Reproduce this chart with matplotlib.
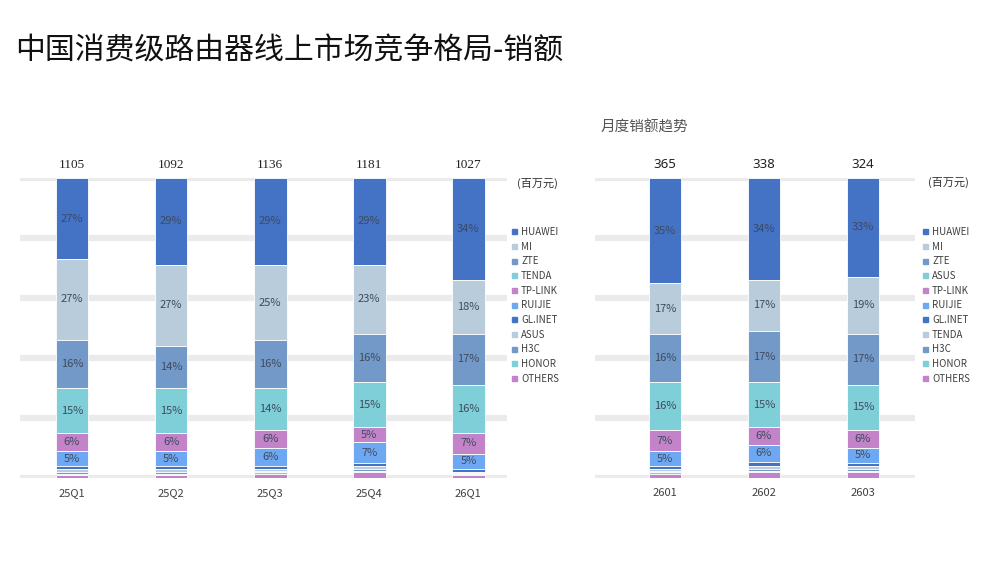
import matplotlib
matplotlib.use("Agg")
import matplotlib.pyplot as plt
from matplotlib.lines import Line2D
import numpy as np

plt.rcParams['font.family'] = ['Noto Sans CJK SC', 'DejaVu Sans']

# quarterly shares (%), stack order top -> bottom
quarters = ['25Q1', '25Q2', '25Q3', '25Q4', '26Q1']
quarter_totals = [1105, 1092, 1136, 1181, 1027]
quarter_brands = ['HUAWEI', 'MI', 'ZTE', 'TENDA', 'TP-LINK', 'RUIJIE',
                  'GL.INET', 'ASUS', 'H3C', 'HONOR', 'OTHERS']
q_huawei = [27, 29, 29, 29, 34]
q_mi = [27, 27, 25, 23, 18]
q_zte = [16, 14, 16, 16, 17]
q_tenda = [15, 15, 14, 15, 16]
q_tplink = [6, 6, 6, 5, 7]
q_ruijie = [5, 5, 6, 7, 5]
q_glinet = [1, 1, 1, 1, 1]
q_asus = [1, 1, 0.5, 1, 0.3]
q_h3c = [0.5, 0.5, 0.5, 0.5, 0.3]
q_honor = [0.5, 0.5, 0.5, 0.5, 0.4]
q_others = [1, 1, 1.5, 2, 1]

# monthly shares (%)
months = ['2601', '2602', '2603']
month_totals = [365, 338, 324]
month_brands = ['HUAWEI', 'MI', 'ZTE', 'ASUS', 'TP-LINK', 'RUIJIE',
                'GL.INET', 'TENDA', 'H3C', 'HONOR', 'OTHERS']
m_huawei = [35, 34, 33]
m_mi = [17, 17, 19]
m_zte = [16, 17, 17]
m_asus = [16, 15, 15]
m_tplink = [7, 6, 6]
m_ruijie = [5, 5.5, 5]
m_glinet = [1, 1.5, 1]
m_tenda = [0.5, 1, 1]
m_h3c = [0.5, 0.5, 0.5]
m_honor = [0.5, 0.5, 0.5]
m_others = [1.5, 2, 2]

palette = ['#4472C4', '#B8CCDC', '#7399C9', '#7FCFD8', '#C283C8', '#6FA8F2']
label_color = '#3E4A5E'
grid_color = '#EBEBEB'


def draw_panel(ax, cats, totals, brands, series, x_left, x_right, total_font):
    x = np.arange(len(cats))
    ax.set_xlim(x_left, x_right)
    ax.set_ylim(0, 100)
    for g in range(0, 101, 20):
        ax.axhline(g, color=grid_color, lw=4.5, zorder=0)

    top = np.full(len(cats), 100.0)
    for i, vals in enumerate(series):
        vals = np.array(vals, dtype=float)
        bottom = top - vals
        ax.bar(x, vals, bottom=bottom, width=0.33, color=palette[i % 6],
               edgecolor='white', linewidth=0.6, zorder=2)
        for xi, v, b in zip(x, vals, bottom):
            if v >= 5:
                ax.text(xi, b + v / 2, f'{v:.0f}%', ha='center', va='center',
                        fontsize=8, color=label_color, zorder=3)
        top = bottom

    for xi, t in zip(x, totals):
        ax.text(xi, 102.5, str(t), ha='center', va='bottom', fontsize=9.5,
                color='#222222', family=total_font)
    for xi, c in zip(x, cats):
        ax.text(xi, -3.5, c, ha='center', va='top', fontsize=8,
                color='#404040')

    ax.axis('off')


def draw_legend(fig, brands, x0, y_unit, y_first):
    fig.text(x0, y_unit, '(百万元)', fontsize=8, color='#303030',
             ha='left', va='center')
    handles = [Line2D([], [], marker='s', linestyle='none', markersize=3.6,
                      color=palette[i % 6]) for i in range(len(brands))]
    fig.legend(handles, brands, loc='upper left',
               bbox_to_anchor=(x0 - 0.012, y_first), frameon=False,
               fontsize=7, labelspacing=0.48, handlelength=0.8,
               handletextpad=0.35, borderpad=0, labelcolor='#404040')


fig = plt.figure(figsize=(10, 5.63), dpi=100)
fig.patch.set_facecolor('white')

fig.text(0.015, 0.91, '中国消费级路由器线上市场竞争格局-销额', fontsize=21.5,
         color='#111111', ha='left', va='center')
fig.text(0.601, 0.773, '月度销额趋势', fontsize=10.5, color='#555555',
         ha='left', va='center')

ax1 = fig.add_axes([0.020, 85 / 563, 0.487, 300 / 563])
draw_panel(ax1, quarters, quarter_totals, quarter_brands,
           [q_huawei, q_mi, q_zte, q_tenda, q_tplink, q_ruijie,
            q_glinet, q_asus, q_h3c, q_honor, q_others],
           -0.525, 4.39, 'Liberation Serif')

ax2 = fig.add_axes([0.595, 85 / 563, 0.320, 300 / 563])
draw_panel(ax2, months, month_totals, month_brands,
           [m_huawei, m_mi, m_zte, m_asus, m_tplink, m_ruijie,
            m_glinet, m_tenda, m_h3c, m_honor, m_others],
           -0.707, 2.525, 'Noto Sans')

draw_legend(fig, quarter_brands, 0.517, 1 - 183 / 563, 1 - 222 / 563)
draw_legend(fig, month_brands, 0.928, 1 - 182 / 563, 1 - 222 / 563)

fig.savefig('out.png', dpi=100, facecolor='white')
